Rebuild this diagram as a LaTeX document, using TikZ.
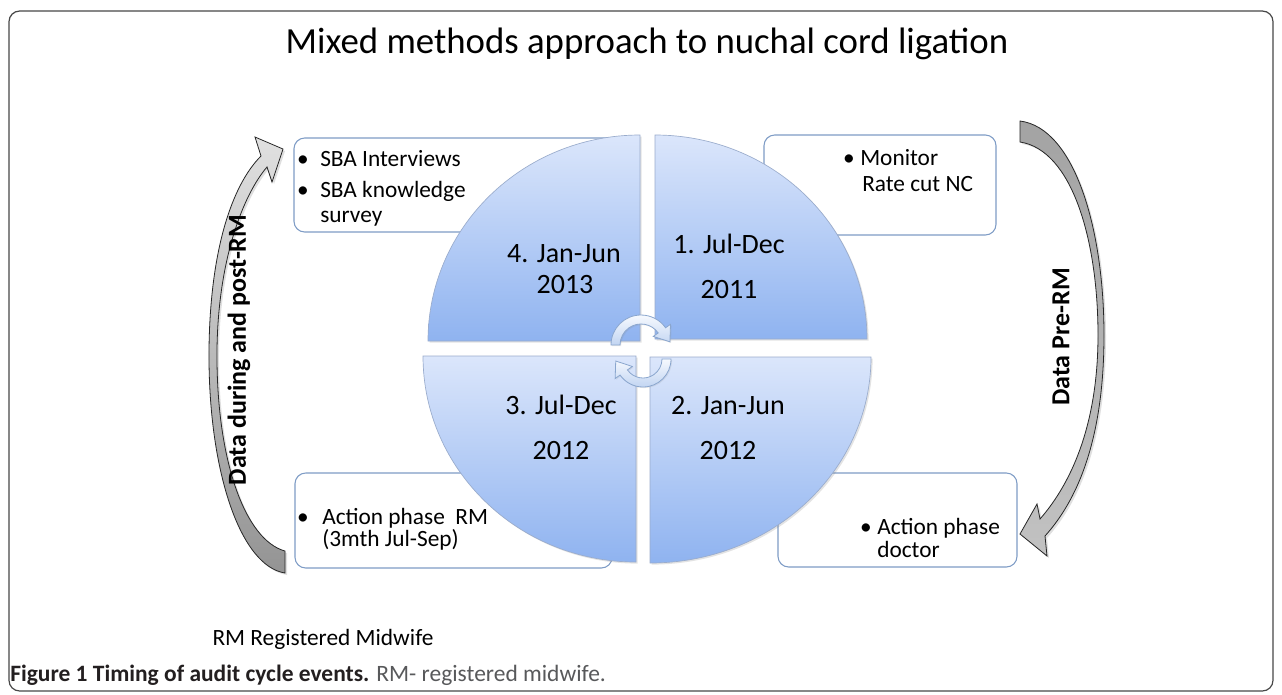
\documentclass[tikz,border=0pt]{standalone}
\usepackage{fontspec}
\setmainfont{Carlito}
\usetikzlibrary{calc,shadows,fit}
\definecolor{qtop}{HTML}{DBE6FB}
\definecolor{qbot}{HTML}{8FB3F0}
\definecolor{qline}{HTML}{9AACCC}
\definecolor{boxline}{HTML}{7E9CC6}
\definecolor{catop}{HTML}{F6F9FE}
\definecolor{cabot}{HTML}{C2D5F2}
\definecolor{caline}{HTML}{8AA6CE}
\definecolor{capgray}{HTML}{58595B}
\definecolor{capdark}{HTML}{231F20}
\begin{document}
\begin{tikzpicture}[x=0.75pt,y=-0.75pt,
  frame/.style={draw=black!72, line width=0.9pt, rounded corners=8pt, inner sep=0pt},
  tbox/.style={draw=boxline, line width=0.8pt, rounded corners=8pt, fill=white, inner sep=0pt},
  quad/.style={draw=qline, line width=0.5pt, top color=qtop, bottom color=qbot,
    drop shadow={opacity=0.22, shadow xshift=1.2pt, shadow yshift=-1.2pt}},
  sidearrow/.style={draw=black!85, line width=0.6pt,
    drop shadow={opacity=0.25, shadow xshift=1.5pt, shadow yshift=-1.5pt}},
  cyc/.style={draw=caline, line width=0.6pt, top color=catop, bottom color=cabot,
    drop shadow={opacity=0.15, shadow xshift=0.8pt, shadow yshift=-0.8pt}},
  btxt/.style={inner sep=0pt, anchor=base west, font=\fontsize{17.5}{21}\selectfont},
  bul/.style={inner sep=0pt, anchor=base, font=\fontsize{17.5}{21}\selectfont},
  qtxt/.style={inner sep=0pt, anchor=base, font=\fontsize{21}{25}\selectfont},
  side/.style={inner sep=0pt, rotate=90, font=\fontsize{19.5}{23}\selectfont\bfseries}
]
\useasboundingbox (0,0) rectangle (1282,694);
\fill[white] (0,0) rectangle (1282,694);

% frame
\node[frame, fit={(9,11) (1273,691)}] (frame) {};

% title
\node[inner sep=0pt, anchor=base, font=\fontsize{27.6}{33}\selectfont] (title) at (647,53)
  {Mixed methods approach to nuchal cord ligation};

% text boxes
\node[tbox, fit={(294,138) (622,232)}] (bTL) {};
\node[tbox, fit={(764,135) (996,235)}] (bTR) {};
\node[tbox, fit={(295,473) (612,568)}] (bBL) {};
\node[tbox, fit={(778,473) (1017,567)}] (bBR) {};

% quadrants
\path[quad] (640,341) -- (428,341) arc[start angle=180, end angle=270, x radius=212, y radius=206] -- cycle;
\path[quad] (655,339) -- (655,135) arc[start angle=270, end angle=360, x radius=212, y radius=204] -- cycle;
\path[quad] (650,357) -- (871,357) arc[start angle=0, end angle=90, x radius=221, y radius=206] -- cycle;
\path[quad] (636,356) -- (636,562) arc[start angle=90, end angle=180, x radius=213, y radius=206] -- cycle;

% quadrant labels
\node[qtxt] (q4a) at (564,262) {4. Jan-Jun};
\node[qtxt] (q4b) at (565,293) {2013};
\node[qtxt] (q1a) at (729,253) {1. Jul-Dec};
\node[qtxt] (q1b) at (729,298) {2011};
\node[qtxt] (q3a) at (561,414) {3. Jul-Dec};
\node[qtxt] (q3b) at (561,459) {2012};
\node[qtxt] (q2a) at (728,414) {2. Jan-Jun};
\node[qtxt] (q2b) at (728,459) {2012};

% center cycle arrows
\coordinate (c1) at (641,345);
\coordinate (c2) at (643,359);
\path[cyc] ($(c1)+(180:30)$) arc[start angle=180, end angle=325, radius=30]
  -- ($(c1)+(325:36)$) -- ($(c1)+(325:25.5)+(55:14)$) -- ($(c1)+(325:15)$)
  -- ($(c1)+(325:21)$) arc[start angle=325, end angle=180, radius=21] -- cycle;
\path[cyc] ($(c2)+(0:28)$) arc[start angle=0, end angle=145, radius=28]
  -- ($(c2)+(145:34)$) -- ($(c2)+(145:23.5)+(235:14)$) -- ($(c2)+(145:13)$)
  -- ($(c2)+(145:19)$) arc[start angle=145, end angle=0, radius=19] -- cycle;

% box texts
\node[bul] (b1) at (303,166) {•};
\node[btxt] (t1) at (320,166) {SBA Interviews};
\node[bul] (b2) at (303,197) {•};
\node[btxt] (t2) at (320,197) {SBA knowledge};
\node[btxt] (t3) at (320,222) {survey};

\node[bul] (b3) at (849,165) {•};
\node[btxt] (t4) at (860,165) {Monitor};
\node[btxt] (t5) at (862,191) {Rate cut NC};

\node[bul] (b4) at (303,524) {•};
\node[btxt] (t6) at (322,524) {Action phase\ \ RM};
\node[btxt] (t7) at (322,546) {(3mth Jul-Sep)};

\node[bul] (b5) at (866,534) {•};
\node[btxt] (t8) at (877,534) {Action phase};
\node[btxt] (t9) at (877,557) {doctor};

% side arrows
\path[sidearrow, top color=black!12, bottom color=black!42]
  (285,573) .. controls (240,566) and (208,470) .. (209,350)
  .. controls (210,250) and (232,185) .. (261,156)
  -- (255,137) -- (283,149) -- (272,182) -- (267,167)
  .. controls (243,195) and (218,260) .. (217,350)
  .. controls (216,460) and (245,540) .. (285,551) -- cycle;
\path[sidearrow, top color=black!36, bottom color=black!24]
  (1020,121) .. controls (1075,128) and (1104,230) .. (1104,335)
  .. controls (1104,430) and (1082,495) .. (1045,536)
  -- (1047,556) -- (1020,534) -- (1037,504) -- (1040,519)
  .. controls (1074,480) and (1098,420) .. (1098,335)
  .. controls (1098,240) and (1072,150) .. (1020,142) -- cycle;

% side labels
\node[side] (lblL) at (239,350) {Data during and post-RM};
\node[side] (lblR) at (1061,337) {Data Pre-RM};

% captions
\node[inner sep=0pt, anchor=base, font=\fontsize{17.5}{21}\selectfont] (rm) at (323,645) {RM Registered Midwife};
\node[inner sep=0pt, anchor=base west, font=\fontsize{17.6}{21}\selectfont] (fig) at (10,681)
  {\textcolor{capdark}{\bfseries Figure 1 Timing of audit cycle events.} \textcolor{capgray}{RM- registered midwife.}};
\end{tikzpicture}
\end{document}
